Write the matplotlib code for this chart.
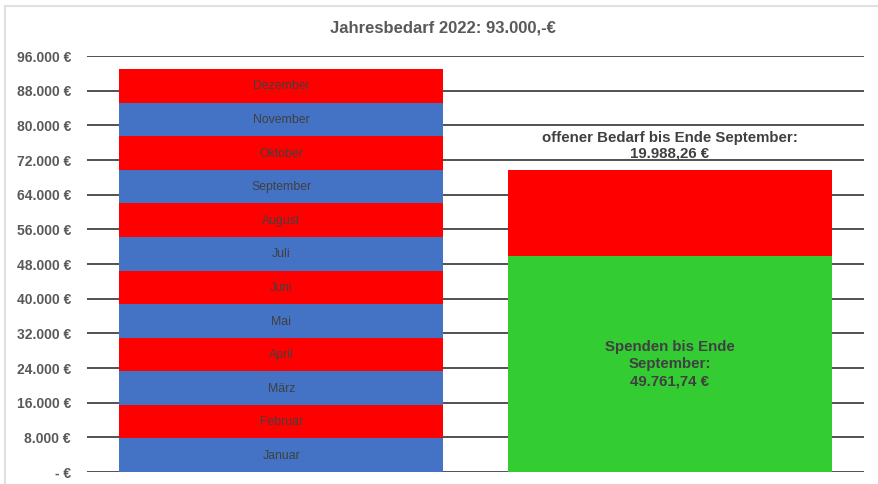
import matplotlib
matplotlib.use("Agg")
import matplotlib.pyplot as plt
from matplotlib.ticker import FuncFormatter
from matplotlib.lines import Line2D

plt.rcParams['font.family'] = ['Liberation Sans', 'DejaVu Sans']

# data
months = ['Januar', 'Februar', 'März', 'April', 'Mai', 'Juni', 'Juli',
          'August', 'September', 'Oktober', 'November', 'Dezember']
monthly = [7750] * 12
month_colors = ['#4472C4', '#FF0000'] * 6
spenden = 49761.74
offen = 19988.26
yticks = list(range(0, 96001, 8000))

def euro(v, pos=None):
    if v == 0:
        return '- €'
    return '{:,.0f} €'.format(v).replace(',', '.')

fig = plt.figure(figsize=(8.79, 4.84), dpi=100)
ax = fig.add_axes([87/879, 1-472/484, (864-87)/879, (472-56)/484])

# gridlines
for t in yticks:
    ax.axhline(t, color='#333333', lw=1.2, zorder=0)

# left stacked bar
bottom = 0
for m, v, c in zip(months, monthly, month_colors):
    ax.bar(0, v, bottom=bottom, width=0.835, color=c, zorder=2)
    ax.text(0, bottom + v/2 - 150, m, ha='center', va='center', fontsize=8.8, color='#404040', zorder=3)
    bottom += v

# right bar
ax.bar(1, spenden, width=0.835, color='#33CC33', zorder=2)
ax.bar(1, offen, bottom=spenden, width=0.835, color='#FF0000', zorder=2)
ax.text(1, spenden/2, 'Spenden bis Ende\nSeptember:\n49.761,74 €', ha='center', va='center',
        fontsize=10.8, fontweight='bold', color='#404040', linespacing=1.27, zorder=3)
ax.annotate('offener Bedarf bis Ende September:\n19.988,26 €', xy=(1, spenden + offen),
            xytext=(0, 7), textcoords='offset points', ha='center', va='bottom',
            fontsize=10.8, fontweight='bold', color='#404040', linespacing=1.05)

ax.set_xlim(-0.5, 1.5)
ax.set_ylim(0, 96000)
ax.set_yticks(yticks)
ax.yaxis.set_major_formatter(FuncFormatter(euro))
ax.set_xticks([])
ax.tick_params(axis='y', length=0, pad=11.5, labelsize=10, labelcolor='#595959')
for lbl in ax.get_yticklabels():
    lbl.set_fontweight('bold')
for s in ax.spines.values():
    s.set_visible(False)

fig.text(443/879, 1-28/484, 'Jahresbedarf 2022: 93.000,-€', ha='center', va='center',
         fontsize=12, fontweight='bold', color='#595959')

# light frame (top and left)
fig.add_artist(Line2D([5/879, 1], [1-6/484, 1-6/484], color='#e0e0e0', lw=1.5, transform=fig.transFigure))
fig.add_artist(Line2D([5/879, 5/879], [0, 1-6/484], color='#e0e0e0', lw=1.5, transform=fig.transFigure))

fig.savefig('out.png', dpi=100)
